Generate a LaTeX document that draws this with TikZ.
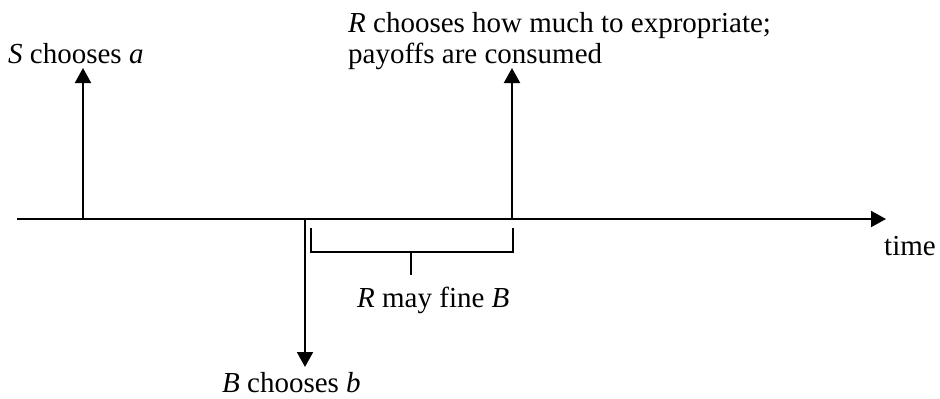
\documentclass[tikz,border=0pt]{standalone}
\usepackage{fontspec}
\setmainfont{Liberation Serif}
\usetikzlibrary{arrows.meta}
\begin{document}
\begin{tikzpicture}[x=1pt,y=-1pt,
  lbl/.style={inner sep=0pt,anchor=base west,font=\fontsize{29}{31}\selectfont},
  evt/.style={line width=2pt,-{Triangle[length=15pt,width=16pt]}},
  brk/.style={line width=1.3pt}]
\useasboundingbox (0,0) rectangle (940,399);
% timeline
\coordinate (t0) at (17,219);
\coordinate (t1) at (886,219);
\draw[evt] (t0) -- (t1);
% events
\coordinate (sa0) at (83,219);
\coordinate (sa1) at (83,68);
\coordinate (rb0) at (512,219);
\coordinate (rb1) at (512,68);
\coordinate (bb0) at (305,219);
\coordinate (bb1) at (305,367);
\draw[evt] (sa0) -- (sa1);
\draw[evt] (rb0) -- (rb1);
\draw[evt] (bb0) -- (bb1);
% labels
\node[lbl] (slab) at (8,63) {\textit{S} chooses \textit{a}};
\node[lbl] (rlab1) at (348,32) {\textit{R} chooses how much to expropriate;};
\node[lbl] (rlab2) at (348,63) {payoffs are consumed};
\node[lbl] (blab) at (222,392) {\textit{B} chooses \textit{b}};
\node[lbl] (tlab) at (884,255) {time};
\node[lbl] (flab) at (357,307) {\textit{R} may fine \textit{B}};
% bracket
\coordinate (k1) at (311,228);
\coordinate (k2) at (311,252);
\coordinate (k3) at (513,252);
\coordinate (k4) at (513,228);
\coordinate (m1) at (411,252);
\coordinate (m2) at (411,275);
\draw[brk] (k1) -- (k2) -- (k3) -- (k4);
\draw[brk] (m1) -- (m2);
\end{tikzpicture}
\end{document}
